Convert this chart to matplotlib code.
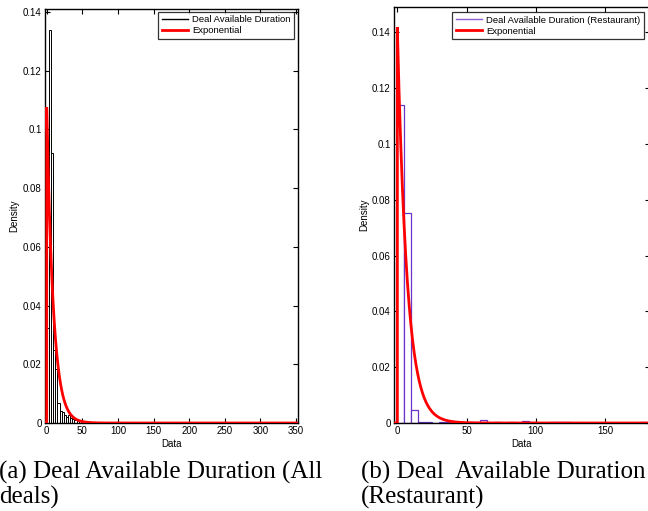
import numpy as np
import matplotlib
matplotlib.use("Agg")
import matplotlib.pyplot as plt
from matplotlib.lines import Line2D

# ---- histogram data: densities per bin ----
all_bin_width = 3.0
all_density = [0.0325, 0.134, 0.092, 0.025, 0.0185, 0.0068, 0.0042, 0.0037,
               0.0026, 0.0022, 0.0027, 0.0018, 0.0013, 0.0011, 0.0009, 0.0007,
               0.0006, 0.0005, 0.0004, 0.0004, 0.0003, 0.0003, 0, 0, 0, 0,
               0, 0, 0, 0, 0.0002, 0, 0, 0, 0, 0]

rest_bin_width = 5.0
rest_density = [0.114, 0.0752, 0.0046, 0.0004, 0.0002, 0, 0.0005, 0.0002,
                0, 0, 0.0003, 0.0003, 0.0012, 0, 0.0003, 0, 0.0003, 0,
                0.0008, 0.0004, 0, 0, 0.0003, 0.0003, 0.0003, 0, 0, 0,
                0, 0, 0, 0, 0, 0, 0, 0.0003, 0]

# fitted exponential means
all_mean = 9.3
rest_mean = 7.05

all_xlim = (-2.4, 352.8)
rest_xlim = (-2.4, 182.5)
all_ylim = (0, 0.141)
rest_ylim = (0, 0.149)

all_xticks = [0, 50, 100, 150, 200, 250, 300, 350]
rest_xticks = [0, 50, 100, 150]
yticks = [0, 0.02, 0.04, 0.06, 0.08, 0.1, 0.12, 0.14]
ytick_labels = ["0", "0.02", "0.04", "0.06", "0.08", "0.1", "0.12", "0.14"]

hist_labels = ["Deal Available Duration", "Deal Available Duration (Restaurant)"]
fit_label = "Exponential"
captions = [("(a) Deal Available Duration (All", "deals)"),
            ("(b) Deal  Available Duration", "(Restaurant)")]

SANS = ["Liberation Sans", "DejaVu Sans"]
SERIF = ["Liberation Serif", "DejaVu Serif"]
PURPLE = "#6a35c8"

W, H = 648, 511
fig = plt.figure(figsize=(W / 100, H / 100), dpi=100)


def px_axes(x0, x1, ytop, ybot):
    return fig.add_axes([x0 / W, 1 - ybot / H, (x1 - x0) / W, (ybot - ytop) / H])


def exp_curve(mean, xlim):
    grid = np.linspace(0.0, xlim[1], 600)
    xs = np.concatenate(([xlim[0], 0.0], grid))
    ys = np.concatenate(([0.0, 0.0], np.exp(-grid / mean) / mean))
    return xs, ys


def style_axes(ax, xticks, xlim, ylim):
    ax.set_xticks(xticks)
    ax.set_xticklabels([str(t) for t in xticks])
    ax.set_yticks(yticks)
    ax.set_yticklabels(ytick_labels)
    ax.set_xlim(*xlim)
    ax.set_ylim(*ylim)
    ax.tick_params(direction="in", length=3.5, width=0.8, top=True, right=True,
                   labelsize=7, pad=2.5, colors="black")
    for lab in ax.get_xticklabels() + ax.get_yticklabels():
        lab.set_family(SANS)
    for sp in ax.spines.values():
        sp.set_linewidth(1.0)
        sp.set_color("black")
    ax.set_xlabel("Data", family=SANS, fontsize=7)
    ax.set_ylabel("Density", family=SANS, fontsize=7)


def add_legend(ax, handles, labels, anchor):
    leg = ax.legend(handles, labels, loc="upper right", bbox_to_anchor=anchor,
                    prop={"family": SANS, "size": 6.8}, frameon=True, fancybox=False,
                    edgecolor="black", borderpad=0.35, labelspacing=0.22,
                    handlelength=2.8, handletextpad=0.45, borderaxespad=0.0)
    leg.get_frame().set_linewidth(0.9)
    return leg


# ---- left panel: all deals ----
ax1 = px_axes(45, 298, 9, 423)
edges1 = np.arange(len(all_density)) * all_bin_width
ax1.bar(edges1, all_density, width=all_bin_width, align="edge",
        facecolor="white", edgecolor="black", linewidth=0.7, zorder=2)
x1, y1 = exp_curve(all_mean, all_xlim)
ax1.plot(x1, y1, color="red", linewidth=2.0, zorder=3, solid_joinstyle="miter")
style_axes(ax1, all_xticks, all_xlim, all_ylim)
ax1.yaxis.set_label_coords((14.5 - 45) / 253, 0.5)
ax1.xaxis.set_label_coords(0.5, -(444 - 423) / 414)
ax1.xaxis.label.set_va("center")
ax1.yaxis.label.set_va("center")
add_legend(ax1,
           [Line2D([], [], color="black", linewidth=1.0),
            Line2D([], [], color="red", linewidth=2.0)],
           [hist_labels[0], fit_label],
           ((294 - 45) / 253, 1 - (12 - 9) / 414))

# ---- right panel: restaurant deals ----
ax2 = px_axes(394, 650, 7.3, 423)
edges2 = np.arange(len(rest_density)) * rest_bin_width
ax2.bar(edges2, rest_density, width=rest_bin_width, align="edge",
        facecolor="white", edgecolor=PURPLE, linewidth=0.9, zorder=2)
x2, y2 = exp_curve(rest_mean, rest_xlim)
ax2.plot(x2, y2, color="red", linewidth=2.0, zorder=3, solid_joinstyle="miter")
style_axes(ax2, rest_xticks, rest_xlim, rest_ylim)
ax2.yaxis.set_label_coords((364 - 394) / 256, 0.5)
ax2.xaxis.set_label_coords(0.5, -(444 - 423) / 415.7)
ax2.xaxis.label.set_va("center")
ax2.yaxis.label.set_va("center")
add_legend(ax2,
           [Line2D([], [], color="#8a5cd6", linewidth=1.0),
            Line2D([], [], color="red", linewidth=2.0)],
           [hist_labels[1], fit_label],
           ((644 - 394) / 256, 1 - (12.3 - 7.3) / 415.7))

# ---- sub-figure captions ----
for (line_a, line_b), xpx in zip(captions, [-1, 361]):
    fig.text(xpx / W, 1 - 479 / H, line_a, family=SERIF, fontsize=18,
             ha="left", va="baseline")
    fig.text(xpx / W, 1 - 504 / H, line_b, family=SERIF, fontsize=18,
             ha="left", va="baseline")

fig.savefig("out.png", dpi=100)
